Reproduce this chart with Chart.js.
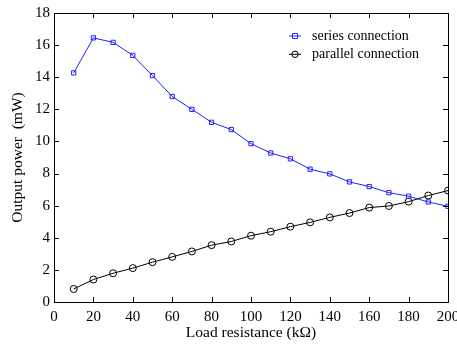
<!DOCTYPE html>
<html><head><meta charset="utf-8">
<script src="https://cdn.jsdelivr.net/npm/chart.js@4/dist/chart.umd.min.js"></script>
<style>html,body{margin:0;padding:0;background:#fff}#wrap{width:457px;height:347px}</style>
</head><body><div id="wrap"><canvas id="c" width="457" height="347"></canvas></div>
<script>
const loadResistance = [10,20,30,40,50,60,70,80,90,100,110,120,130,140,150,160,170,180,190,200];
const seriesPower = [14.27,16.45,16.17,15.36,14.1,12.8,12.0,11.19,10.74,9.86,9.28,8.92,8.27,7.98,7.48,7.19,6.81,6.59,6.23,5.96];
const parallelPower = [0.81,1.40,1.79,2.11,2.48,2.81,3.15,3.54,3.77,4.13,4.38,4.69,4.96,5.27,5.54,5.88,5.98,6.25,6.63,6.94];
const seriesNames = ['series connection','parallel connection'];
const xTicks = [0,20,40,60,80,100,120,140,160,180,200];
const yTicks = [0,2,4,6,8,10,12,14,16,18];

const FONT = "'Liberation Serif', serif";
const BLUE = '#2020ff';

const frame = {
  id:'frame',
  afterDraw(chart){
    const {ctx, chartArea:a, scales:{x,y}} = chart;
    ctx.save();
    ctx.strokeStyle='#000'; ctx.lineWidth=1;
    ctx.strokeRect(Math.round(a.left)+0.5, Math.round(a.top)+0.5, Math.round(a.right-a.left), Math.round(a.bottom-a.top));
    ctx.beginPath();
    const L=5;
    xTicks.forEach(v=>{const px=Math.round(x.getPixelForValue(v))+0.5;
      ctx.moveTo(px,a.bottom); ctx.lineTo(px,a.bottom-L);
      ctx.moveTo(px,a.top); ctx.lineTo(px,a.top+L);});
    yTicks.forEach(v=>{const py=Math.round(y.getPixelForValue(v))+0.5;
      ctx.moveTo(a.left,py); ctx.lineTo(a.left+L,py);
      ctx.moveTo(a.right,py); ctx.lineTo(a.right-L,py);});
    ctx.stroke();
    // legend
    const items=[{c:BLUE,s:'rect'},{c:'#000',s:'circle'}];
    ctx.font="14px 'Liberation Serif', serif"; ctx.textBaseline='middle'; ctx.textAlign='left';
    items.forEach((it,i)=>{
      const yy=36+i*18.3, x0=289, x1=301, xm=295;
      ctx.strokeStyle=it.c; ctx.beginPath(); ctx.moveTo(x0,yy); ctx.lineTo(x1,yy); ctx.stroke();
      ctx.beginPath();
      if(it.s==='rect'){ctx.rect(xm-2.5,yy-2.5,5,5);} else {ctx.arc(xm,yy,3.2,0,Math.PI*2);}
      ctx.stroke();
      ctx.fillStyle='#000'; ctx.fillText(seriesNames[i],312,yy);
    });
    ctx.restore();
  }
};

new Chart(document.getElementById('c'),{
  type:'line',
  data:{datasets:[
    {label:seriesNames[0],data:loadResistance.map((v,i)=>({x:v,y:seriesPower[i]})),borderColor:BLUE,backgroundColor:'rgba(0,0,0,0)',borderWidth:1,pointStyle:'rect',pointRadius:3,pointBorderColor:BLUE,pointBorderWidth:1,pointBackgroundColor:'rgba(0,0,0,0)'},
    {label:seriesNames[1],data:loadResistance.map((v,i)=>({x:v,y:parallelPower[i]})),borderColor:'#000',backgroundColor:'rgba(0,0,0,0)',borderWidth:1,pointStyle:'circle',pointRadius:3.5,pointBorderColor:'#000',pointBorderWidth:1,pointBackgroundColor:'rgba(0,0,0,0)'}
  ]},
  options:{
    responsive:false,animation:false,devicePixelRatio:1,
    layout:{padding:{left:0,right:9,top:13,bottom:0}},
    plugins:{legend:{display:false},tooltip:{enabled:false}},
    scales:{
      x:{type:'linear',min:0,max:200,
        afterBuildTicks:s=>{s.ticks=xTicks.map(v=>({value:v}));},
        afterFit:s=>{s.height=45;s.paddingLeft=0;s.paddingRight=0;},
        grid:{display:false,drawTicks:false},border:{display:true,color:'#000'},
        ticks:{color:'#000',font:{family:FONT,size:15},padding:6,maxRotation:0,autoSkip:false},
        title:{display:true,text:'Load resistance (kΩ)',color:'#000',font:{family:FONT,size:15.5},padding:{top:0,bottom:5}}},
      y:{type:'linear',min:0,max:18,
        afterBuildTicks:s=>{s.ticks=yTicks.map(v=>({value:v}));},
        afterFit:s=>{s.width=54;s.paddingTop=0;s.paddingBottom=0;},
        grid:{display:false,drawTicks:false},border:{display:true,color:'#000'},
        ticks:{color:'#000',font:{family:FONT,size:15},padding:4,autoSkip:false},
        title:{display:true,text:'Output power  (mW)',color:'#000',font:{family:FONT,size:15.5},padding:{top:9,bottom:0}}}
    }
  },
  plugins:[frame]
});
</script></body></html>
